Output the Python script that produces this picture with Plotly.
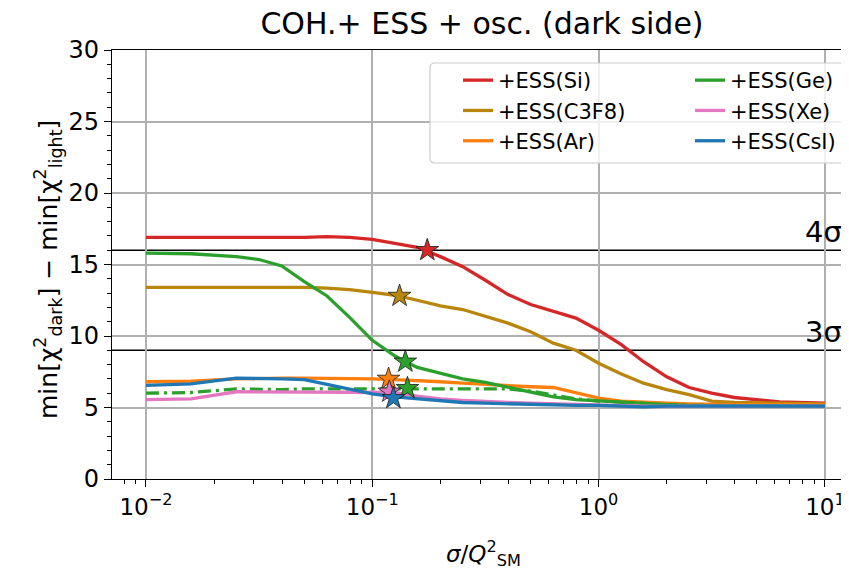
import plotly.graph_objects as go

# ---------------- data ----------------
sigma = [0.01, 0.0158, 0.0251, 0.0316, 0.0398, 0.0501, 0.0631, 0.0794, 0.1, 0.126, 0.158,
         0.2, 0.251, 0.316, 0.398, 0.501, 0.631, 0.794, 1.0, 1.26, 1.58,
         2.0, 2.51, 3.16, 3.98, 6.31, 10.0]

si = [16.9, 16.9, 16.9, 16.85, 16.85, 16.9, 16.95, 16.9, 16.75, 16.5, 16.2,
      15.55, 14.85, 13.9, 12.9, 12.2, 11.7, 11.25, 10.4, 9.4, 8.2,
      7.15, 6.4, 6.0, 5.7, 5.4, 5.3]
c3f8 = [13.4, 13.4, 13.45, 13.4, 13.4, 13.4, 13.35, 13.25, 13.05, 12.85, 12.5,
        12.1, 11.85, 11.4, 10.9, 10.3, 9.5, 9.0, 8.1, 7.35, 6.7,
        6.25, 5.9, 5.45, 5.35, 5.3, 5.25]
ar = [6.8, 6.85, 7.0, 7.05, 7.05, 7.05, 7.05, 7.0, 7.0, 6.95, 6.9,
      6.8, 6.7, 6.6, 6.5, 6.45, 6.4, 6.05, 5.65, 5.45, 5.35,
      5.3, 5.25, 5.2, 5.2, 5.2, 5.2]
ge = [15.8, 15.75, 15.55, 15.35, 14.9, 13.8, 12.8, 11.3, 9.7, 8.6, 7.8,
      7.4, 7.0, 6.75, 6.4, 6.05, 5.75, 5.55, 5.45, 5.35, 5.25,
      5.2, 5.15, 5.15, 5.1, 5.1, 5.1]
xe = [5.55, 5.6, 6.1, 6.1, 6.1, 6.1, 6.1, 6.1, 6.1, 6.05, 5.8,
      5.6, 5.5, 5.4, 5.35, 5.3, 5.25, 5.2, 5.15, 5.15, 5.1,
      5.1, 5.1, 5.1, 5.1, 5.1, 5.1]
csi = [6.55, 6.65, 7.05, 7.05, 7.0, 6.95, 6.6, 6.3, 5.95, 5.75, 5.6,
       5.45, 5.35, 5.3, 5.25, 5.2, 5.2, 5.15, 5.15, 5.1, 5.05,
       5.1, 5.1, 5.1, 5.1, 5.1, 5.1]
ge_alt = [6.0, 6.05, 6.3, 6.25, 6.25, 6.3, 6.3, 6.3, 6.3, 6.3, 6.3,
          6.3, 6.3, 6.3, 6.3, 6.15, 5.85, 5.6, 5.45, 5.35, 5.25,
          5.2, 5.15, 5.15, 5.1, 5.1, 5.1]

# best-fit stars (x, y)
star_si = (0.175, 16.0)
star_c3f8 = (0.132, 12.8)
star_ar = (0.118, 7.0)
star_ge = (0.140, 8.2)
star_xe = (0.119, 6.1)
star_csi = (0.124, 5.65)
star_ge_alt = (0.143, 6.35)

sigma_levels = [16.0, 9.0]
sigma_labels = ["4σ", "3σ"]

x_tickvals = [0.01, 0.1, 1, 10]
x_ticktext = ["10<sup>−2</sup>", "10<sup>−1</sup>", "10<sup>0</sup>", "10<sup>1</sup>"]

# ---------------- styling ----------------
FONT = "DejaVu Sans"
W, H = 849, 568
OFF = 8                      # page body margin in the browser
SL, ST, SR, SB = 112, 50, 848, 479   # plot area in screen pixels
PW, PH = SR - SL, SB - ST
L, T = SL - OFF, ST - OFF
R, B = W - (SR - OFF), H - (SB - OFF)


def px2x(px):
    return (px - SL) / PW


def px2y(py):
    return (SB - py) / PH


series = [
    ("+ESS(Si)", si, "#d62728", "legend"),
    ("+ESS(C3F8)", c3f8, "#b8860b", "legend"),
    ("+ESS(Ar)", ar, "#ff7f0e", "legend"),
    ("+ESS(Ge)", ge, "#2ca02c", "legend2"),
    ("+ESS(Xe)", xe, "#e377c2", "legend2"),
    ("+ESS(CsI)", csi, "#1f77b4", "legend2"),
]

fig = go.Figure()

for name, ys, col, lg in series:
    fig.add_trace(go.Scatter(x=sigma, y=ys, mode="lines", name=name,
                             line=dict(color=col, width=3.3), legend=lg))
    if name == "+ESS(Ge)":
        fig.add_trace(go.Scatter(x=sigma, y=ge_alt, mode="lines", showlegend=False,
                                 line=dict(color=col, width=3.3, dash="13px,5px,3px,5px")))

stars = [(star_si, "#d62728"), (star_c3f8, "#b8860b"), (star_ar, "#ff7f0e"),
         (star_ge, "#2ca02c"), (star_ge_alt, "#2ca02c"), (star_xe, "#e377c2"),
         (star_csi, "#1f77b4")]
for (sx, sy), col in stars:
    fig.add_trace(go.Scatter(x=[sx], y=[sy], mode="markers", showlegend=False,
                             marker=dict(symbol="star", size=17, color=col,
                                         line=dict(color="#1a1a1a", width=0.8))))

for lev, lab in zip(sigma_levels, sigma_labels):
    fig.add_shape(type="line", xref="paper", x0=0, x1=1, yref="y", y0=lev, y1=lev,
                  line=dict(color="black", width=1.5), layer="between")
    fig.add_annotation(xref="paper", x=px2x(844), yref="y", y=lev, yanchor="bottom",
                       xanchor="right", text=lab, showarrow=False, yshift=-1,
                       font=dict(family=FONT, size=29, color="black"))

# legend frame (rounded)
x0, x1, y0, y1 = px2x(430), px2x(845), px2y(163), px2y(63)
rx, ry = 5 / PW, 5 / PH
path = (f"M {x0+rx},{y0} L {x1-rx},{y0} Q {x1},{y0} {x1},{y0+ry} "
        f"L {x1},{y1-ry} Q {x1},{y1} {x1-rx},{y1} L {x0+rx},{y1} "
        f"Q {x0},{y1} {x0},{y1-ry} L {x0},{y0+ry} Q {x0},{y0} {x0+rx},{y0} Z")
fig.add_shape(type="path", xref="paper", yref="paper", path=path,
              fillcolor="rgba(255,255,255,0.8)", line=dict(color="#cccccc", width=1.2),
              layer="above")

fig.add_annotation(xref="paper", yref="paper", x=px2x(483), y=px2y(553),
                   text="<i>σ</i>/<i>Q</i><sup>2</sup><sub>SM</sub>", showarrow=False,
                   font=dict(family=FONT, size=23, color="black"), yanchor="middle")
fig.add_annotation(xref="paper", yref="paper", x=px2x(28), y=px2y(270),
                   text="min[χ<sup>2</sup><sub>dark</sub>] − min[χ<sup>2</sup><sub>light</sub>]",
                   textangle=-90, showarrow=False,
                   font=dict(family=FONT, size=25, color="black"))

legend_common = dict(bgcolor="rgba(0,0,0,0)", borderwidth=0,
                     font=dict(family=FONT, size=21, color="black"),
                     xanchor="left", yanchor="top", orientation="v")
fig.update_layout(
    width=W, height=H,
    margin=dict(l=L, r=R, t=T, b=B),
    paper_bgcolor="white", plot_bgcolor="white",
    font=dict(family=FONT, color="black"),
    title=dict(text="COH.+ ESS + osc. (dark side)", x=px2x(482), xref="paper",
               xanchor="center", y=1 - (23 - OFF) / H, yref="container", yanchor="middle",
               font=dict(family=FONT, size=30, color="black")),
    legend=dict(x=px2x(458), y=px2y(60), **legend_common),
    legend2=dict(x=px2x(690), y=px2y(60), **legend_common),
    xaxis=dict(type="log", range=[-2.15, 1.102], tickvals=x_tickvals, ticktext=x_ticktext,
               showgrid=True, gridcolor="#b0b0b0", gridwidth=1.6,
               ticks="outside", ticklen=7, tickwidth=1.3, tickcolor="black",
               showline=True, linecolor="black", linewidth=1.3, mirror=True,
               tickfont=dict(family=FONT, size=23, color="black"),
               minor=dict(ticks="outside", ticklen=4, tickwidth=1, tickcolor="black",
                          dtick="D1", showgrid=False),
               zeroline=False),
    yaxis=dict(range=[0, 30], dtick=5, tick0=0,
               showgrid=True, gridcolor="#b0b0b0", gridwidth=1.6,
               ticks="outside", ticklen=7, tickwidth=1.3, tickcolor="black",
               showline=True, linecolor="black", linewidth=1.3,
               tickfont=dict(family=FONT, size=24, color="black"),
               minor=dict(ticks="outside", ticklen=4, tickwidth=1, tickcolor="black",
                          dtick=1, showgrid=False),
               zeroline=False),
)

fig.write_html("out.html")
